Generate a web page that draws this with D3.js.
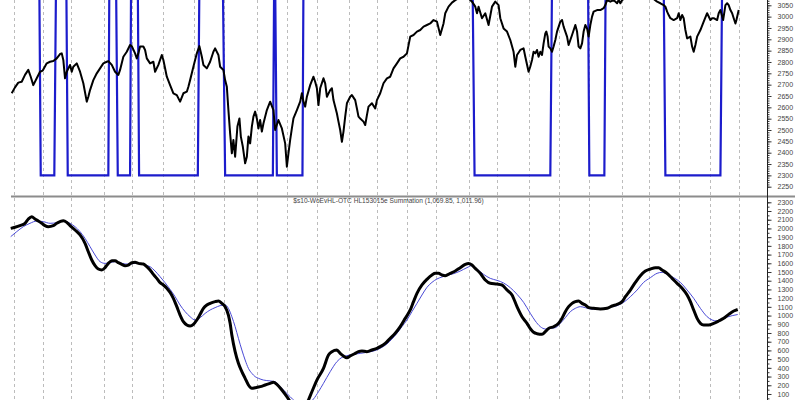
<!DOCTYPE html>
<html><head><meta charset="utf-8">
<script src="https://cdn.jsdelivr.net/npm/d3@7"></script>
<style>html,body{margin:0;padding:0;background:#fff;}svg{display:block;font-family:"Liberation Sans",Arial,sans-serif;}</style>
</head><body><svg id="c" width="800" height="400"></svg>
<script>
// ---- data (x = trading-bar index) ----
const gridBars = [3,23,43,66,85,107,129,150,173,194,215,237,257,278,298,321,341,363,384,405,428,447,468,490,510];
const priceTicks = d3.range(2250, 3051, 50);
const sumTicks = d3.range(100, 2301, 100);
const titleText = "$s10-WoEvHL-OTC HL153015e Summation (1,069.85, 1,011.96)";
const signalOn = 3150, signalOff = 2300;
const signalDownStart = [20.5, 39.4, 74.2, 89.4, 148.9, 185.5, 323.6, 404.4, 457.3];
const signalDownEnd   = [21.5, 40.4, 75.4, 90.3, 150.5, 186.7, 325.0, 405.3, 458.5];
const signalUpStart   = [31.0, 68.8, 84.0, 131.4, 183.9, 204.6, 378.0, 415.8, 497.0];
const signalUpEnd     = [32.2, 69.5, 84.7, 132.5, 184.8, 205.3, 379.2, 416.7, 498.2];
const lastBar = 510;

const priceData = [[1.2,2662],[3.5,2688],[5.8,2709],[8.2,2713],[10.5,2743],[12.8,2765],[14.5,2735],[16.3,2698],[18.7,2728],[21.0,2757],[22.9,2762],[25.7,2794],[28.0,2801],[30.3,2804],[32.7,2816],[35.0,2835],[36.2,2838],[37.3,2809],[38.5,2728],[39.7,2757],[42.0,2787],[43.2,2757],[44.3,2779],[46.7,2794],[49.0,2757],[51.3,2706],[53.7,2625],[54.8,2647],[56.0,2676],[58.3,2720],[60.7,2750],[63.0,2772],[65.3,2794],[67.7,2801],[68.8,2804],[71.2,2787],[73.5,2757],[75.8,2743],[77.0,2765],[79.3,2823],[81.7,2845],[84.0,2875],[85.2,2870],[87.5,2838],[88.7,2816],[89.8,2838],[91.0,2868],[93.3,2868],[94.5,2853],[95.7,2816],[98.0,2794],[100.3,2801],[101.5,2757],[103.8,2787],[106.2,2831],[107.3,2809],[109.7,2735],[112.0,2698],[114.3,2662],[116.7,2654],[119.0,2625],[121.3,2662],[123.7,2669],[124.8,2691],[126.0,2720],[128.3,2779],[130.7,2838],[132.5,2870],[134.2,2823],[135.3,2787],[137.7,2772],[140.0,2801],[142.3,2845],[143.5,2860],[145.8,2831],[147.0,2779],[149.3,2765],[150.5,2720],[151.7,2691],[152.8,2588],[154.0,2485],[155.2,2397],[156.3,2456],[157.5,2382],[159.1,2515],[160.5,2551],[161.5,2471],[162.9,2426],[164.5,2353],[165.7,2382],[166.8,2471],[168.0,2441],[169.2,2515],[170.3,2559],[171.5,2581],[172.7,2551],[173.8,2507],[175.0,2544],[176.2,2493],[177.3,2529],[179.7,2588],[182.0,2625],[184.3,2588],[185.5,2500],[187.8,2544],[190.2,2507],[192.5,2441],[193.7,2338],[194.8,2397],[196.0,2456],[197.2,2507],[198.3,2551],[200.7,2588],[203.0,2625],[204.2,2662],[205.3,2625],[206.5,2603],[207.7,2647],[210.0,2698],[212.3,2735],[213.5,2713],[214.7,2684],[215.8,2610],[217.0,2684],[219.3,2728],[220.5,2706],[221.7,2647],[224.0,2676],[225.2,2684],[226.3,2632],[227.5,2603],[228.7,2573],[229.8,2537],[231.0,2500],[232.2,2448],[233.3,2493],[234.5,2559],[235.7,2618],[238.0,2647],[239.2,2654],[241.5,2632],[242.7,2595],[243.8,2559],[245.0,2551],[247.3,2537],[248.5,2522],[249.7,2566],[250.8,2603],[253.2,2618],[255.5,2595],[256.7,2632],[259.0,2662],[261.3,2706],[263.7,2728],[266.0,2735],[268.3,2772],[270.7,2794],[273.0,2816],[275.3,2823],[277.7,2838],[280.0,2912],[282.3,2919],[284.7,2934],[287.0,2941],[289.3,2956],[291.7,2963],[294.0,2970],[296.3,2985],[298.7,2978],[301.0,2919],[303.3,2970],[304.5,3015],[306.8,3044],[309.2,3062],[311.5,3073],[313.8,3081],[317.3,3095],[320.8,3081],[323.2,3066],[325.5,3044],[326.7,3015],[327.8,3044],[330.2,2993],[332.5,3015],[334.8,2963],[337.2,3044],[339.5,3066],[341.8,3051],[343.0,2993],[345.3,2948],[347.7,2934],[350.0,2897],[352.3,2845],[353.5,2779],[354.7,2831],[357.0,2853],[359.3,2860],[360.5,2823],[362.8,2757],[364.0,2780],[365.2,2809],[366.3,2845],[367.5,2838],[368.7,2853],[369.8,2823],[371.0,2845],[372.2,2831],[373.3,2882],[374.5,2926],[375.2,2934],[376.1,2912],[376.8,2868],[378.0,2860],[379.2,2845],[380.3,2868],[381.5,2897],[382.7,2934],[385.0,2978],[386.2,2985],[387.3,2956],[389.7,2912],[390.8,2875],[392.0,2897],[393.2,2919],[395.5,2963],[396.7,2934],[397.8,2868],[399.0,2860],[400.2,2882],[401.3,2934],[402.5,2963],[403.7,2948],[404.8,2912],[406.0,2963],[407.2,3000],[408.3,3022],[410.7,3029],[413.0,3029],[415.3,3037],[416.5,3051],[417.7,3073],[420.0,3066],[422.3,3073],[424.7,3059],[425.8,3073],[427.0,3059],[428.2,3073],[431.7,3088],[438.7,3095],[445.7,3088],[450.3,3078],[452.7,3066],[455.0,3059],[457.3,3051],[458.5,3044],[459.7,3022],[460.8,3007],[462.0,2993],[464.3,2985],[466.7,2993],[467.8,3015],[469.0,2985],[470.2,3007],[471.3,2993],[472.5,2941],[473.7,2904],[476.0,2912],[477.2,2868],[478.3,2845],[479.5,2875],[480.7,2912],[483.0,2941],[485.3,2978],[487.7,3015],[490.0,2985],[491.2,2993],[492.3,2993],[494.7,2985],[495.8,3015],[497.0,3029],[498.9,2985],[500.5,3051],[501.7,3059],[502.8,3051],[504.0,3029],[505.2,3015],[506.3,2993],[507.5,2970],[508.2,2985],[509.8,3029]];

const sumData = [[0.5,2001],[3.5,2013],[7.0,2032],[10.5,2059],[12.8,2108],[15.2,2135],[17.5,2108],[19.8,2085],[22.2,2059],[24.5,2032],[26.8,2020],[30.3,2032],[32.7,2059],[35.0,2078],[37.3,2089],[39.7,2070],[42.0,2032],[45.5,1982],[49.0,1925],[52.5,1829],[54.8,1733],[57.2,1638],[59.5,1573],[61.8,1534],[64.2,1523],[66.5,1550],[68.8,1599],[71.2,1630],[73.5,1630],[75.8,1607],[78.2,1588],[80.5,1573],[82.8,1580],[85.2,1607],[87.5,1611],[89.8,1599],[93.3,1592],[95.7,1561],[98.0,1523],[100.3,1473],[102.7,1427],[105.0,1378],[107.3,1351],[109.7,1313],[112.0,1267],[114.3,1198],[116.7,1102],[119.0,1006],[121.3,930],[123.7,892],[126.0,880],[128.3,899],[130.7,949],[133.0,1014],[135.3,1083],[137.7,1121],[140.0,1140],[143.5,1160],[145.8,1167],[148.2,1140],[150.5,1102],[152.8,1006],[154.0,911],[155.2,777],[157.5,586],[159.8,452],[162.2,356],[164.5,280],[166.8,203],[169.2,165],[171.5,172],[175.0,184],[178.5,203],[182.0,222],[184.3,235],[186.7,210],[190.2,146],[193.7,69],[196.0,12],[199.5,-65],[204.2,-65],[207.7,-7],[208.8,31],[211.2,126],[214.7,260],[219.3,394],[222.8,547],[225.2,586],[228.7,605],[231.0,566],[233.3,536],[235.7,517],[238.0,536],[241.5,566],[243.8,586],[246.2,593],[249.7,586],[253.2,605],[256.7,624],[259.0,643],[262.5,681],[266.0,739],[269.5,796],[273.0,873],[276.5,968],[280.0,1064],[282.3,1160],[284.7,1255],[288.2,1351],[291.7,1416],[295.2,1466],[297.5,1485],[299.8,1485],[302.2,1466],[304.5,1458],[308.0,1485],[311.5,1512],[315.0,1550],[318.5,1588],[320.8,1599],[323.2,1580],[325.5,1542],[329.0,1485],[332.5,1408],[336.0,1370],[340.7,1362],[344.2,1351],[347.7,1293],[351.2,1236],[354.7,1102],[358.2,987],[361.7,911],[364.0,850],[366.3,808],[368.7,792],[372.2,785],[374.5,815],[376.8,853],[380.3,872],[383.8,911],[386.2,968],[388.5,1045],[390.8,1102],[393.2,1140],[395.5,1160],[397.8,1167],[400.2,1140],[402.5,1121],[404.8,1091],[408.3,1083],[413.0,1075],[417.7,1083],[421.2,1110],[424.7,1129],[428.2,1160],[430.5,1217],[434.0,1293],[437.5,1381],[441.0,1458],[444.5,1511],[448.0,1534],[451.5,1550],[453.8,1550],[456.2,1523],[459.7,1485],[463.2,1427],[466.7,1370],[470.2,1313],[473.7,1236],[476.0,1160],[478.3,1064],[480.7,968],[483.0,911],[485.3,892],[488.8,892],[492.3,911],[495.8,938],[499.3,968],[502.8,1014],[506.3,1052],[509.1,1070]];

const sumAvgData = [[0.5,1906],[4.7,1963],[9.3,2020],[14.0,2059],[18.7,2085],[23.3,2078],[28.0,2059],[32.7,2066],[37.3,2085],[42.0,2059],[45.5,2020],[49.0,1963],[52.5,1886],[56.0,1791],[59.5,1695],[63.0,1619],[66.5,1599],[70.0,1607],[73.5,1619],[77.0,1607],[80.5,1592],[84.0,1592],[87.5,1599],[91.0,1599],[94.5,1580],[98.0,1561],[101.5,1511],[105.0,1446],[108.5,1377],[112.0,1301],[115.5,1217],[119.0,1121],[122.5,1045],[126.0,987],[129.5,949],[133.0,976],[136.5,1025],[140.0,1064],[143.5,1091],[147.0,1114],[150.5,1121],[152.8,1083],[155.2,987],[157.5,873],[159.8,739],[162.2,605],[164.5,490],[166.8,394],[169.2,337],[171.5,299],[173.8,280],[177.3,260],[182.0,250],[185.5,241],[189.0,184],[192.5,126],[196.0,69],[199.5,12],[204.2,-27],[208.8,-7],[212.3,42],[215.8,126],[219.3,222],[224.0,356],[228.7,471],[232.2,520],[235.7,540],[240.3,555],[245.0,566],[249.7,578],[254.3,593],[259.0,624],[263.7,674],[267.2,731],[270.7,796],[274.2,873],[277.7,949],[281.2,1045],[284.7,1140],[288.2,1236],[291.7,1324],[295.2,1381],[298.7,1420],[302.2,1443],[305.7,1462],[310.3,1481],[315.0,1511],[319.7,1550],[323.2,1573],[326.7,1534],[331.3,1473],[336.0,1427],[340.7,1404],[345.3,1374],[350.0,1320],[354.7,1244],[359.3,1152],[364.0,1026],[367.5,938],[371.0,873],[374.5,846],[378.0,853],[381.5,861],[385.0,911],[388.5,976],[392.0,1045],[395.5,1083],[399.0,1102],[402.5,1091],[406.0,1075],[410.7,1071],[415.3,1083],[420.0,1098],[424.7,1114],[429.3,1152],[434.0,1217],[438.7,1293],[443.3,1381],[448.0,1435],[452.7,1485],[456.2,1496],[459.7,1473],[464.3,1435],[469.0,1381],[473.7,1293],[478.3,1198],[483.0,1083],[487.7,987],[491.2,949],[494.7,938],[498.2,961],[501.7,983],[505.2,999],[509.1,1012]];

// ---- build signal step series from transition arrays ----
const signalData = [[0, signalOn]];
signalDownStart.forEach((d, i) => {
  signalData.push([d, signalOn], [signalDownEnd[i], signalOff], [signalUpStart[i], signalOff], [signalUpEnd[i], signalOn]);
});
signalData.push([lastBar, signalOn]);

// ---- layout ----
const svg = d3.select("#c");
const axisX = 767.5, sepY = 196.5;
const x = d3.scaleLinear().domain([0, 510]).range([10, 739]);
const yTop = d3.scaleLinear().domain([2250, 3050]).range([186.7, 5.3]);
const yBot = d3.scaleLinear().domain([0, 2300]).range([402.7, 202.3]);

svg.append("rect").attr("width", 800).attr("height", 400).attr("fill", "#fff");
const defs = svg.append("defs");
defs.append("clipPath").attr("id", "clipTop").append("rect").attr("x", 0).attr("y", 0).attr("width", axisX).attr("height", sepY);
defs.append("clipPath").attr("id", "clipBot").append("rect").attr("x", 0).attr("y", sepY + 1).attr("width", axisX).attr("height", 400 - sepY);

// grid
svg.append("g").selectAll("line").data(gridBars).join("line")
  .attr("x1", d => Math.round(x(d)) + 0.5).attr("x2", d => Math.round(x(d)) + 0.5)
  .attr("y1", 0).attr("y2", 400)
  .attr("stroke", "#bcbcbc").attr("stroke-width", 1).attr("stroke-dasharray", "3,3");

// top panel
const gTop = svg.append("g").attr("clip-path", "url(#clipTop)");
gTop.append("path").datum(signalData)
  .attr("d", d3.line().x(d => x(d[0])).y(d => yTop(d[1])))
  .attr("fill", "none").attr("stroke", "#1c1ccc").attr("stroke-width", 2.2);
gTop.append("path").datum(priceData)
  .attr("d", d3.line().x(d => x(d[0])).y(d => yTop(d[1])))
  .attr("fill", "none").attr("stroke", "#000").attr("stroke-width", 2).attr("stroke-linejoin", "round");

// bottom panel
const gBot = svg.append("g").attr("clip-path", "url(#clipBot)");
gBot.append("path").datum(sumAvgData)
  .attr("d", d3.line().curve(d3.curveMonotoneX).x(d => x(d[0])).y(d => yBot(d[1])))
  .attr("fill", "none").attr("stroke", "#4a4ad6").attr("stroke-width", 1);
gBot.append("path").datum(sumData)
  .attr("d", d3.line().curve(d3.curveMonotoneX).x(d => x(d[0])).y(d => yBot(d[1])))
  .attr("fill", "none").attr("stroke", "#000").attr("stroke-width", 3).attr("stroke-linejoin", "round");

// separator
svg.append("line").attr("x1", 11).attr("x2", 795).attr("y1", sepY).attr("y2", sepY)
  .attr("stroke", "#8c8c8c").attr("stroke-width", 2);

// title
svg.append("text").attr("x", 388.5).attr("y", 203).attr("text-anchor", "middle")
  .attr("font-size", 6.6).attr("fill", "#444").text(titleText);

// axes
function styleAxis(g) {
  g.select(".domain").remove();
  g.selectAll(".tick line").attr("stroke", "#333");
  g.selectAll(".tick text").attr("font-size", 7).attr("fill", "#444").attr("font-family", '"Liberation Sans",Arial,sans-serif');
}
const topMinor = svg.append("g").attr("transform", `translate(${axisX},0)`)
  .call(d3.axisRight(yTop).tickValues(d3.range(2250, 3071, 10)).tickSize(2).tickFormat(""));
styleAxis(topMinor);
const topAxis = svg.append("g").attr("transform", `translate(${axisX},0)`)
  .call(d3.axisRight(yTop).tickValues(priceTicks).tickSize(4).tickPadding(6).tickFormat(d3.format("d")));
styleAxis(topAxis);
const botMinor = svg.append("g").attr("transform", `translate(${axisX},0)`)
  .call(d3.axisRight(yBot).tickValues(d3.range(0, 2301, 50)).tickSize(2).tickFormat(""));
styleAxis(botMinor);
const botAxis = svg.append("g").attr("transform", `translate(${axisX},0)`)
  .call(d3.axisRight(yBot).tickValues(sumTicks).tickSize(4).tickPadding(6).tickFormat(d3.format("d")));
styleAxis(botAxis);
svg.append("line").attr("x1", axisX).attr("x2", axisX).attr("y1", 0).attr("y2", 400)
  .attr("stroke", "#222").attr("stroke-width", 1);
</script></body></html>
